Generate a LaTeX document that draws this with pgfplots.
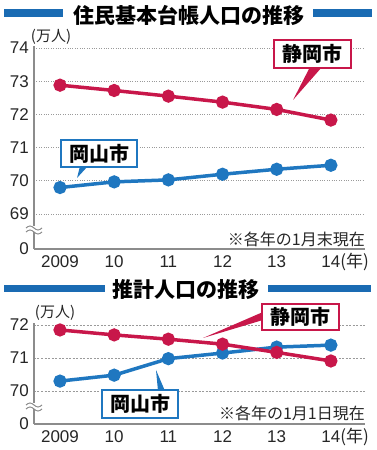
\documentclass[border=0pt]{standalone}
\usepackage{fontspec}
\setmainfont{Liberation Sans}
\newfontfamily\cjk{Noto Sans CJK JP}
\usepackage{pgfplots}
\pgfplotsset{compat=1.18}
\definecolor{sred}{HTML}{C8174A}
\definecolor{oblue}{HTML}{1F77C0}
\definecolor{tblue}{HTML}{1A6BB3}
\definecolor{gridc}{HTML}{9A9A9A}
\definecolor{axc}{HTML}{8C8C8C}
\pgfplotsset{mystyle/.style={
  scale only axis, width=331pt, xmin=-0.48, xmax=5.63,
  axis x line=bottom, axis y line=left,
  axis line style={-, axc, line width=1.1pt},
  xtick={0,...,5}, xticklabels={2009,10,11,12,13,{14\rlap{\cjk(年)}}},
  major tick length=0pt,
  ticklabel style={font=\fontsize{17}{17}\selectfont, text=black!85},
  xticklabel style={anchor=north, inner sep=0pt, yshift=-6pt, text height=12.5pt, text depth=0pt},
  yticklabel style={anchor=east, inner sep=0pt, xshift=-5pt},
  /pgf/number format/assume math mode=true,
  ymajorgrids,
  extra y tick style={grid=none},
  clip=false,
  blueline/.style={oblue, line width=3.5pt, mark=*, mark size=4.8pt},
  redline/.style={sred, line width=3.5pt, mark=*, mark size=4.8pt},
}}
\begin{document}
\begin{tikzpicture}
\useasboundingbox (0pt,0pt) rectangle (377pt,450pt);
% top chart
\begin{axis}[mystyle, at={(34pt,201pt)}, anchor=south west, height=202.7pt,
  ymin=67.95, ymax=74.05, ytick={69,...,74}, extra y ticks={67.95}, extra y tick labels={0},
  grid style={gridc, dotted, line width=0.9pt}]
\addplot[blueline] coordinates {(0,69.80)(1,69.97)(2,70.03)(3,70.20)(4,70.35)(5,70.47)};
\addplot[redline] coordinates {(0,72.88)(1,72.72)(2,72.55)(3,72.37)(4,72.15)(5,71.83)};
\end{axis}
% bottom chart
\begin{axis}[mystyle, at={(34pt,26pt)}, anchor=south west, height=100.65pt,
  ymin=69, ymax=72.05, ytick={70,71,72}, extra y ticks={69}, extra y tick labels={0},
  grid style={gridc, dash pattern=on 2pt off 1.5pt, line width=0.7pt}]
\addplot[blueline] coordinates {(0,70.30)(1,70.48)(2,70.98)(3,71.15)(4,71.33)(5,71.39)};
\addplot[redline] coordinates {(0,71.85)(1,71.70)(2,71.57)(3,71.42)(4,71.17)(5,70.91)};
\end{axis}
\begin{scope}[x=1pt, y=-1pt, yshift=450pt]
% titles
\fill[tblue] (4,9) rectangle (63,17);
\fill[tblue] (313,9) rectangle (372,17);
\node[font=\cjk\bfseries\fontsize{21}{21}\selectfont, inner sep=0pt] at (189,15) {住民基本台帳人口の推移};
\fill[tblue] (4,285) rectangle (105,292);
\fill[tblue] (268,285) rectangle (371,292);
\node[font=\cjk\bfseries\fontsize{21}{21}\selectfont, inner sep=0pt] at (186,290) {推計人口の推移};
% units
\node[font=\cjk\fontsize{15}{15}\selectfont, inner sep=0pt, text=black!85] at (51,37) {(万人)};
\node[font=\cjk\fontsize{15}{15}\selectfont, inner sep=0pt, text=black!85] at (55,313) {(万人)};
% notes
\node[font=\cjk\fontsize{16}{16}\selectfont, inner sep=0pt, anchor=east, text=black!85] at (365,239) {※各年の1月末現在};
\node[font=\cjk\fontsize{16}{16}\selectfont, inner sep=0pt, anchor=east, text=black!85] at (365,413) {※各年の1月1日現在};
% breaks
\fill[white] (25,226.5) rectangle (43,232);
\draw[axc, line width=1pt] (26,228) sin (30,226) cos (34,228) sin (38,230) cos (42,228);
\draw[axc, line width=1pt] (26,232) sin (30,230) cos (34,232) sin (38,234) cos (42,232);
\fill[white] (25,403.5) rectangle (43,409);
\draw[axc, line width=1pt] (26,405) sin (30,403) cos (34,405) sin (38,407) cos (42,405);
\draw[axc, line width=1pt] (26,409) sin (30,407) cos (34,409) sin (38,411) cos (42,409);
% callouts top
\fill[sred] (310,67) -- (293,100) -- (322,67) -- cycle;
\draw[sred, fill=white, line width=1.3pt] (274,40) rectangle (351,68);
\node[font=\cjk\bfseries\fontsize{20}{20}\selectfont, inner sep=0pt] at (312.5,54) {静岡市};
\fill[oblue] (80,166) -- (77,178) -- (88,166) -- cycle;
\draw[oblue, fill=white, line width=1.3pt] (61,140) rectangle (137,167);
\node[font=\cjk\bfseries\fontsize{20}{20}\selectfont, inner sep=0pt] at (99,153.5) {岡山市};
% callouts bottom
\fill[sred] (263,312) -- (203,338) -- (263,320) -- cycle;
\draw[sred, fill=white, line width=1.3pt] (262,304) rectangle (339,330);
\node[font=\cjk\bfseries\fontsize{20}{20}\selectfont, inner sep=0pt] at (300.5,317) {静岡市};
\fill[oblue] (156,370) -- (158,391) -- (165,391) -- cycle;
\draw[oblue, fill=white, line width=1.3pt] (102,390) rectangle (178,418);
\node[font=\cjk\bfseries\fontsize{20}{20}\selectfont, inner sep=0pt] at (140,404) {岡山市};
\end{scope}
\end{tikzpicture}
\end{document}
